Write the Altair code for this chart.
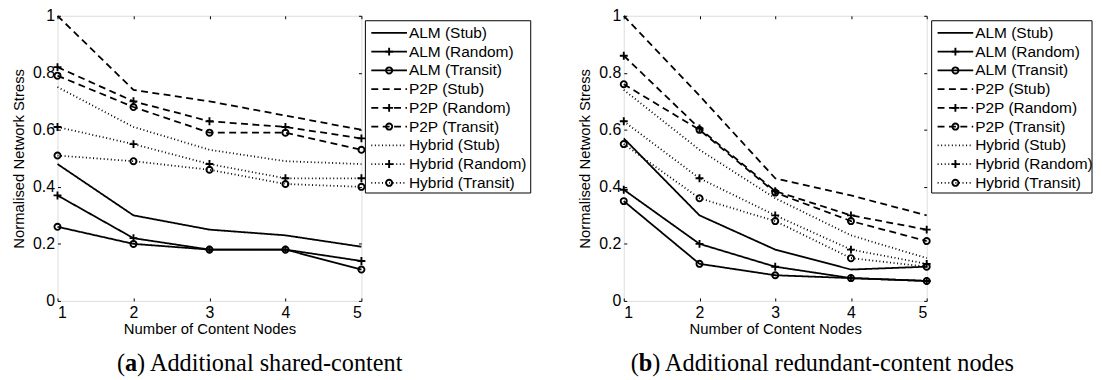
import altair as alt
import pandas as pd

# ---------------- data ----------------
x_nodes = [1, 2, 3, 4, 5]
series_names = ["ALM (Stub)", "ALM (Random)", "ALM (Transit)",
                "P2P (Stub)", "P2P (Random)", "P2P (Transit)",
                "Hybrid (Stub)", "Hybrid (Random)", "Hybrid (Transit)"]
series_family = ["ALM", "ALM", "ALM", "P2P", "P2P", "P2P", "Hybrid", "Hybrid", "Hybrid"]
series_marker = ["none", "Random", "Transit"] * 3

# (a) Additional shared-content
a_alm_stub = [0.48, 0.30, 0.25, 0.23, 0.19]
a_alm_random = [0.37, 0.22, 0.18, 0.18, 0.14]
a_alm_transit = [0.26, 0.20, 0.18, 0.18, 0.11]
a_p2p_stub = [1.00, 0.74, 0.70, 0.65, 0.60]
a_p2p_random = [0.82, 0.70, 0.63, 0.61, 0.57]
a_p2p_transit = [0.79, 0.68, 0.59, 0.59, 0.53]
a_hyb_stub = [0.75, 0.61, 0.53, 0.49, 0.48]
a_hyb_random = [0.61, 0.55, 0.48, 0.43, 0.43]
a_hyb_transit = [0.51, 0.49, 0.46, 0.41, 0.40]

# (b) Additional redundant-content nodes
b_alm_stub = [0.57, 0.30, 0.18, 0.11, 0.12]
b_alm_random = [0.39, 0.20, 0.12, 0.08, 0.07]
b_alm_transit = [0.35, 0.13, 0.09, 0.08, 0.07]
b_p2p_stub = [1.00, 0.72, 0.43, 0.37, 0.30]
b_p2p_random = [0.86, 0.605, 0.385, 0.30, 0.25]
b_p2p_transit = [0.76, 0.60, 0.38, 0.28, 0.21]
b_hyb_stub = [0.74, 0.53, 0.36, 0.23, 0.15]
b_hyb_random = [0.63, 0.43, 0.30, 0.18, 0.13]
b_hyb_transit = [0.55, 0.36, 0.28, 0.15, 0.12]

y_ticks = [0, 0.2, 0.4, 0.6, 0.8, 1]

a_series = [a_alm_stub, a_alm_random, a_alm_transit, a_p2p_stub, a_p2p_random,
            a_p2p_transit, a_hyb_stub, a_hyb_random, a_hyb_transit]
b_series = [b_alm_stub, b_alm_random, b_alm_transit, b_p2p_stub, b_p2p_random,
            b_p2p_transit, b_hyb_stub, b_hyb_random, b_hyb_transit]


def long_df(all_series):
    rows = []
    for name, fam, mk, vals in zip(series_names, series_family, series_marker, all_series):
        for xv, yv in zip(x_nodes, vals):
            rows.append({"series": name, "family": fam, "marker": mk, "x": xv, "y": yv})
    return pd.DataFrame(rows)


# ---------------- styles ----------------
SANS = "Liberation Sans"
SERIF = "Liberation Serif"
PLUS = "M-1,0L1,0M0,-1L0,1"
TICK = 3

dash_scale = alt.Scale(domain=["ALM", "P2P", "Hybrid"], range=[[1, 0], [7, 4.5], [1, 2.6]])
width_scale = alt.Scale(domain=["ALM", "P2P", "Hybrid"], range=[1.8, 1.8, 1.1])
shape_scale = alt.Scale(domain=["Random", "Transit"], range=[PLUS, "circle"])
size_scale = alt.Scale(domain=["Random", "Transit"], range=[64, 38])

x_scale = alt.Scale(domain=[1, 5], nice=False, zero=False)
y_scale = alt.Scale(domain=[0, 1], nice=False)


def make_plot(df, w, cap_pieces):
    x_axis = alt.Axis(values=x_nodes, format="d", title="Number of Content Nodes",
                      orient="bottom", offset=-TICK, tickSize=TICK, domain=False, grid=False,
                      labelPadding=4, titlePadding=1, labelFont=SANS, labelFontSize=16,
                      titleFont=SANS, titleFontSize=15, titleFontWeight="normal",
                      labelColor="black", titleColor="black", tickColor="black")
    y_axis = alt.Axis(values=y_ticks, format="~g", title="Normalised Network Stress",
                      orient="left", offset=-TICK, tickSize=TICK, domain=False, grid=False,
                      labelPadding=3, titlePadding=6, labelFont=SANS, labelFontSize=16,
                      titleFont=SANS, titleFontSize=15, titleFontWeight="normal",
                      labelColor="black", titleColor="black", tickColor="black")
    lines = alt.Chart(df).mark_line(color="black").encode(
        x=alt.X("x:Q", scale=x_scale, axis=x_axis),
        y=alt.Y("y:Q", scale=y_scale, axis=y_axis),
        detail="series:N",
        strokeDash=alt.StrokeDash("family:N", scale=dash_scale, legend=None),
        strokeWidth=alt.StrokeWidth("family:N", scale=width_scale, legend=None),
        order="x:Q",
    )
    points = alt.Chart(df).transform_filter("datum.marker != 'none'").mark_point(
        filled=False, color="black", strokeWidth=1.9, opacity=1
    ).encode(
        x=alt.X("x:Q", scale=x_scale),
        y=alt.Y("y:Q", scale=y_scale),
        shape=alt.Shape("marker:N", scale=shape_scale, legend=None),
        size=alt.Size("marker:N", scale=size_scale, legend=None),
    )
    inner = alt.layer(lines, points)
    top_right = alt.Chart(df).mark_point(opacity=0).encode(
        x=alt.X("x:Q", scale=x_scale,
                axis=alt.Axis(orient="top", values=x_nodes, labels=False, title=None,
                              offset=-TICK, tickSize=TICK, domain=False, grid=False,
                              tickColor="black")),
        y=alt.Y("y:Q", scale=y_scale,
                axis=alt.Axis(orient="right", values=y_ticks, labels=False, title=None,
                              offset=-TICK, tickSize=TICK, domain=False, grid=False,
                              tickColor="black")),
    )
    one = pd.DataFrame({"k": [0]})
    (x_open, x_letter, x_rest, letter, rest) = cap_pieces
    cap_y = 359
    cap1 = alt.Chart(one).mark_text(font=SERIF, fontSize=24.5, align="right",
                                    baseline="alphabetic", color="black").encode(
        x=alt.value(x_open), y=alt.value(cap_y), text=alt.value("("))
    cap2 = alt.Chart(one).mark_text(font=SERIF, fontSize=24.5, fontWeight="bold", align="center",
                                    baseline="alphabetic", color="black").encode(
        x=alt.value(x_letter), y=alt.value(cap_y), text=alt.value(letter))
    cap3 = alt.Chart(one).mark_text(font=SERIF, fontSize=24.5, align="left",
                                    baseline="alphabetic", color="black").encode(
        x=alt.value(x_rest), y=alt.value(cap_y), text=alt.value(rest))
    return alt.layer(inner, top_right, cap1, cap2, cap3).resolve_axis(
        x="independent", y="independent").properties(width=w, height=288)


def make_legend(w, box_x0, box_w):
    ldf = pd.DataFrame({"series": series_names, "family": series_family,
                        "marker": series_marker, "idx": list(range(len(series_names)))})
    y_enc = alt.Y("idx:Q", scale=alt.Scale(domain=[0, 8], range=[17.3, 168.7]), axis=None)
    one = pd.DataFrame({"k": [0]})
    box = alt.Chart(one).mark_rect(fill="white", stroke="black", strokeWidth=1).encode(
        x=alt.value(box_x0), x2=alt.value(box_x0 + box_w), y=alt.value(5), y2=alt.value(179))
    samples = alt.Chart(ldf).mark_rule(color="black").encode(
        x=alt.value(box_x0 + 6), x2=alt.value(box_x0 + 42), y=y_enc,
        strokeDash=alt.StrokeDash("family:N", scale=dash_scale, legend=None),
        strokeWidth=alt.StrokeWidth("family:N", scale=width_scale, legend=None),
    )
    marks = alt.Chart(ldf).transform_filter("datum.marker != 'none'").mark_point(
        filled=False, color="black", strokeWidth=1.9, opacity=1).encode(
        x=alt.value(box_x0 + 24), y=y_enc,
        shape=alt.Shape("marker:N", scale=shape_scale, legend=None),
        size=alt.Size("marker:N", scale=size_scale, legend=None),
    )
    labels = alt.Chart(ldf).mark_text(font=SANS, fontSize=15.6, align="left",
                                      baseline="middle", color="black").encode(
        x=alt.value(box_x0 + 44), y=y_enc, text="series:N")
    return alt.layer(box, samples, marks, labels).properties(
        width=w, height=288, view=alt.ViewBackground(stroke="transparent"))


plot_a = make_plot(long_df(a_series), 307,
                   (68.2, 74.3, 80.4, "a", ") Additional shared-content"))
leg_a = make_legend(257, 0, 167)
plot_b = make_plot(long_df(b_series), 306,
                   (15.2, 22.0, 28.8, "b", ") Additional redundant-content nodes"))
leg_b = make_legend(164, 1, 162)

chart = alt.hconcat(plot_a, leg_a, plot_b, leg_b, spacing=4, bounds="flush").properties(
    padding={"left": 3, "top": -3, "right": 0, "bottom": 0}
).configure_view(stroke="black", strokeWidth=1).configure(background="white")

chart.save("out.html", embed_options={"renderer": "svg", "actions": False})
